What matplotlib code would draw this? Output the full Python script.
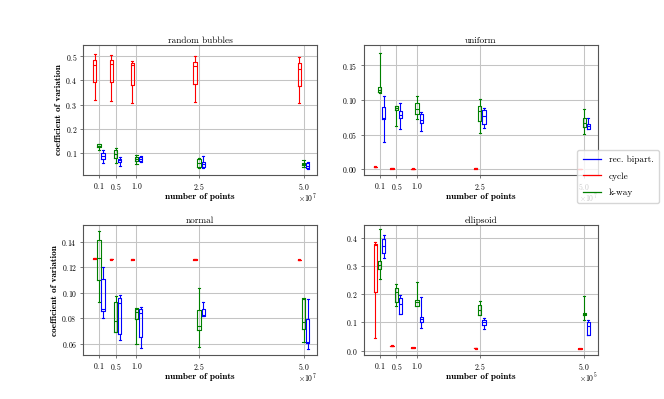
import matplotlib
matplotlib.use("Agg")
import matplotlib.pyplot as plt
import matplotlib.transforms as mtransforms
from matplotlib.lines import Line2D
from matplotlib.ticker import ScalarFormatter, MultipleLocator

plt.rcParams.update({
    "font.family": "serif",
    "font.serif": ["cmr10"],
    "mathtext.fontset": "cm",
    "axes.formatter.use_mathtext": True,
    "axes.unicode_minus": False,
})

# x categories (number of points)
sizes_big = [1e6, 5e6, 1e7, 2.5e7, 5e7]
sizes_small = [1e4, 5e4, 1e5, 2.5e5, 5e5]

titles = ["random bubbles", "uniform", "normal", "ellipsoid"]
methods = ["rec. bipart.", "cycle", "k-way"]
colors = {"rec. bipart.": "#0000ff", "cycle": "#ff0000", "k-way": "#008000"}

# box stats: (whisker low, q1, median, q3, whisker high)
rb_cycle = [(0.320, 0.392, 0.463, 0.486, 0.511), (0.316, 0.392, 0.467, 0.484, 0.504),
            (0.306, 0.383, 0.463, 0.470, 0.480), (0.310, 0.385, 0.458, 0.478, 0.501),
            (0.306, 0.378, 0.449, 0.473, 0.497)]
rb_kway = [(0.111, 0.123, 0.130, 0.135, 0.139), (0.060, 0.081, 0.097, 0.111, 0.122),
           (0.056, 0.067, 0.077, 0.085, 0.090), (0.038, 0.042, 0.058, 0.075, 0.080),
           (0.043, 0.051, 0.056, 0.060, 0.070)]
rb_rec = [(0.058, 0.075, 0.088, 0.099, 0.112), (0.047, 0.063, 0.070, 0.077, 0.085),
          (0.063, 0.066, 0.074, 0.083, 0.087), (0.036, 0.044, 0.053, 0.063, 0.088),
          (0.033, 0.037, 0.047, 0.058, 0.062)]

un_cycle = [(0.0032, 0.0035, 0.0038, 0.0040, 0.0043), (0.0010, 0.0012, 0.0014, 0.0016, 0.0018),
            (0.0007, 0.0009, 0.0010, 0.0012, 0.0013), (0.0009, 0.0011, 0.0013, 0.0015, 0.0016),
            (0.0006, 0.0008, 0.0010, 0.0011, 0.0012)]
un_kway = [(0.110, 0.111, 0.114, 0.118, 0.168), (0.0625, 0.085, 0.089, 0.0913, 0.092),
           (0.072, 0.080, 0.0875, 0.096, 0.106), (0.053, 0.070, 0.084, 0.091, 0.102),
           (0.0514, 0.061, 0.0664, 0.0736, 0.0875)]
un_rec = [(0.040, 0.073, 0.0745, 0.0897, 0.106), (0.0587, 0.0736, 0.078, 0.084, 0.096),
          (0.0553, 0.0668, 0.0707, 0.0793, 0.083), (0.0593, 0.065, 0.077, 0.086, 0.0887),
          (0.0577, 0.0586, 0.0625, 0.0648, 0.0744)]

no_cycle = [(0.1265, 0.1266, 0.1268, 0.1269, 0.1270), (0.1259, 0.1261, 0.1262, 0.1263, 0.1265),
            (0.1257, 0.1259, 0.1260, 0.1261, 0.1263), (0.1257, 0.1259, 0.1260, 0.1261, 0.1263),
            (0.1255, 0.1257, 0.1258, 0.1259, 0.1261)]
no_kway = [(0.093, 0.110, 0.127, 0.141, 0.1485), (0.069, 0.0692, 0.078, 0.0925, 0.097),
           (0.060, 0.0793, 0.085, 0.0872, 0.0877), (0.057, 0.0708, 0.0742, 0.0867, 0.1038),
           (0.0613, 0.0715, 0.077, 0.095, 0.0955)]
no_rec = [(0.0798, 0.0859, 0.0872, 0.1104, 0.120), (0.0626, 0.0674, 0.092, 0.0956, 0.0983),
          (0.0568, 0.0653, 0.084, 0.0872, 0.089), (0.0814, 0.0814, 0.0822, 0.0875, 0.0927),
          (0.0555, 0.0608, 0.061, 0.0795, 0.095)]

el_cycle = [(0.045, 0.209, 0.372, 0.377, 0.383), (0.015, 0.016, 0.017, 0.018, 0.019),
            (0.009, 0.010, 0.011, 0.012, 0.013), (0.007, 0.008, 0.009, 0.010, 0.010),
            (0.005, 0.006, 0.007, 0.008, 0.008)]
el_kway = [(0.254, 0.2904, 0.304, 0.3157, 0.429), (0.158, 0.171, 0.206, 0.222, 0.236),
           (0.158, 0.158, 0.171, 0.180, 0.243), (0.126, 0.126, 0.145, 0.162, 0.174),
           (0.110, 0.127, 0.131, 0.134, 0.192)]
el_rec = [(0.329, 0.345, 0.370, 0.394, 0.408), (0.131, 0.131, 0.164, 0.188, 0.198),
          (0.081, 0.101, 0.112, 0.119, 0.189), (0.077, 0.091, 0.100, 0.110, 0.116),
          (0.054, 0.056, 0.086, 0.102, 0.107)]

panels = [
    (sizes_big, 1e7, {"rec. bipart.": rb_rec, "cycle": rb_cycle, "k-way": rb_kway}, (0.0097, 0.546), 0.1),
    (sizes_big, 1e7, {"rec. bipart.": un_rec, "cycle": un_cycle, "k-way": un_kway}, (-0.0078, 0.179), 0.05),
    (sizes_big, 1e7, {"rec. bipart.": no_rec, "cycle": no_cycle, "k-way": no_kway}, (0.051, 0.1527), 0.02),
    (sizes_small, 1e5, {"rec. bipart.": el_rec, "cycle": el_cycle, "k-way": el_kway}, (-0.0155, 0.443), 0.1),
]
offsets = {"cycle": -0.1, "k-way": 0.0, "rec. bipart.": 0.1}

fig, axes = plt.subplots(2, 2, figsize=(6.64, 3.99), dpi=100)
fig.subplots_adjust(left=0.125, right=0.9, top=0.887, bottom=0.11, wspace=0.2, hspace=0.39)

tick_fs = 5.6
lab_fs = 6.7
for i, (ax, (sizes, scale, data, ylim, ystep)) in enumerate(zip(axes.flat, panels)):
    for m in ["cycle", "k-way", "rec. bipart."]:
        stats = [dict(whislo=s[0], q1=s[1], med=s[2], q3=s[3], whishi=s[4], fliers=[])
                 for s in data[m]]
        pos = [n + offsets[m] * scale for n in sizes]
        c = colors[m]
        ax.bxp(stats, positions=pos, widths=0.08 * scale, showfliers=False,
               manage_ticks=False, patch_artist=False,
               boxprops=dict(color=c, linewidth=0.8),
               whiskerprops=dict(color=c, linewidth=0.8),
               capprops=dict(color=c, linewidth=0.8),
               medianprops=dict(color=c, linewidth=0.8),
               capwidths=0.05 * scale)
    ax.set_xticks(sizes)
    fmt = ScalarFormatter(useMathText=True, useOffset=False)
    fmt.set_powerlimits((0, 0))
    ax.xaxis.set_major_formatter(fmt)
    ax.yaxis.set_major_locator(MultipleLocator(ystep))
    ax.set_xlim(-0.28 * scale, 5.32 * scale)
    ax.set_ylim(*ylim)
    ax.grid(True, color="#c4c4c4", linewidth=0.75)
    ax.set_axisbelow(True)
    ax.tick_params(labelsize=tick_fs, length=2.3, width=0.5, pad=2, color="#444444")
    off = ax.xaxis.get_offset_text()
    off.set_fontsize(tick_fs)
    off.set_transform(off.get_transform() +
                      mtransforms.ScaledTranslation(0, 3.5 / 72, fig.dpi_scale_trans))
    for sp in ax.spines.values():
        sp.set_color("#555555")
        sp.set_linewidth(0.8)
    ax.set_title(titles[i], fontsize=lab_fs, pad=1.5)
    ax.set_xlabel("number of points", fontsize=lab_fs, family="cmb10", labelpad=1)
    if i % 2 == 0:
        ax.set_ylabel("coefficient of variation", fontsize=lab_fs, family="cmb10", labelpad=2)

handles = [Line2D([], [], color=colors[m], linewidth=0.9) for m in methods]
leg = axes[0, 1].legend(handles, methods, loc="upper left", bbox_to_anchor=(0.913, 0.19),
                        borderaxespad=0, fontsize=lab_fs, framealpha=0.8, edgecolor="#cccccc",
                        labelspacing=0.85, borderpad=0.6)
leg.set_zorder(10)

fig.savefig("out.png", dpi=100)
